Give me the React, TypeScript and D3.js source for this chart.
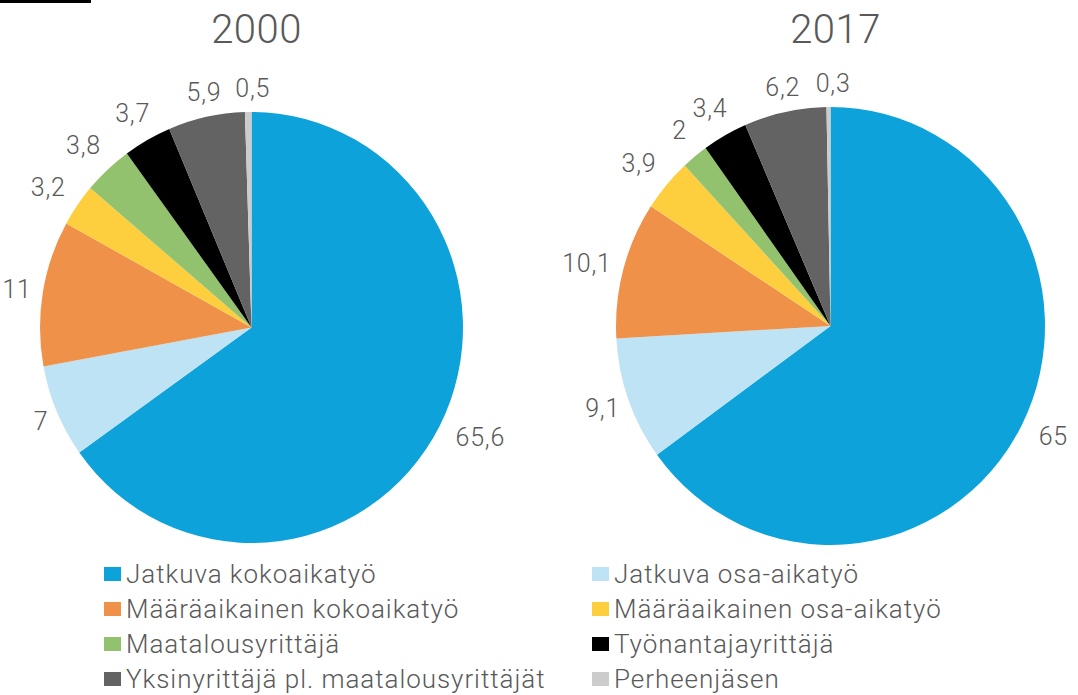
import React from "react";
import * as d3 from "d3";

const categories = [
  "Jatkuva kokoaikatyö",
  "Jatkuva osa-aikatyö",
  "Määräaikainen kokoaikatyö",
  "Määräaikainen osa-aikatyö",
  "Maatalousyrittäjä",
  "Työnantajayrittäjä",
  "Yksinyrittäjä pl. maatalousyrittäjät",
  "Perheenjäsen",
];
const values2000 = [65.6, 7, 11, 3.2, 3.8, 3.7, 5.9, 0.5];
const values2017 = [65, 9.1, 10.1, 3.9, 2, 3.4, 6.2, 0.3];
const colors = ["#0EA2DA", "#BEE3F4", "#F0914A", "#FDCE3E", "#92C26E", "#000000", "#636363", "#CCCCCC"];
const years = ["2000", "2017"];

const FONT = "Roboto, 'DejaVu Sans', sans-serif";
const TEXT = "#595959";

type PieSpec = { title: string; values: number[]; cx: number; cy: number; rx: number; ry: number };

const pies: PieSpec[] = [
  { title: years[0], values: values2000, cx: 251.5, cy: 327.5, rx: 211.5, ry: 215.5 },
  { title: years[1], values: values2017, cx: 830.5, cy: 326, rx: 214.5, ry: 219 },
];

const fmt = (v: number) => String(v).replace(".", ",");

function textWidth(label: string, fs: number) {
  let w = 0;
  for (const ch of label) w += ch === "," ? fs * 0.22 : fs * 0.6;
  return w;
}

function Pie({ spec }: { spec: PieSpec }) {
  const pieGen = d3.pie<number>().sort(null).value((d) => d);
  const arcs = pieGen(spec.values);
  const arcGen = d3.arc<d3.PieArcDatum<number>>().innerRadius(0).outerRadius(spec.rx);
  const sy = spec.ry / spec.rx;
  const fs = 25;
  const gap = 15;
  return (
    <g>
      <text x={spec.cx + 5} y={43} textAnchor="middle" fontSize={40} fontWeight={300} fill={TEXT} fontFamily={FONT} letterSpacing={0.5}>
        {spec.title}
      </text>
      <g transform={`translate(${spec.cx},${spec.cy}) scale(1,${sy})`}>
        {arcs.map((a, i) => (
          <path key={i} d={arcGen(a) || ""} fill={colors[i]} />
        ))}
      </g>
      {arcs.map((a, i) => {
        const mid = (a.startAngle + a.endAngle) / 2;
        const s = Math.sin(mid);
        const c = Math.cos(mid);
        const label = fmt(spec.values[i]);
        const w = textWidth(label, fs);
        const h = fs * 0.72;
        // extra outward push for labels in the upper-left diagonal
        const push = s < 0 && c > 0 ? 10 * Math.pow(Math.sin(2 * mid), 2) : 0;
        const ax = spec.cx + s * (spec.rx + gap + push);
        const ay = spec.cy - c * (spec.ry + gap + push);
        const x = ax + (s * w) / 2 + 5;
        const y = ay - (c * h) / 2;
        return (
          <text key={i} x={x} y={y + h / 2} textAnchor="middle" fontSize={fs} fontWeight={300} fill={TEXT} fontFamily={FONT} letterSpacing={0.8}>
            {label}
          </text>
        );
      })}
    </g>
  );
}

export default function App() {
  const legendX = [104, 592];
  return (
    <svg width={1078} height={695} style={{ position: "absolute", left: 0, top: 0, background: "#fff" }}>
      <rect x={0} y={0} width={91} height={3} fill="#000" />
      {pies.map((p, i) => (
        <Pie key={i} spec={p} />
      ))}
      {categories.map((cat, i) => {
        const col = i % 2;
        const row = Math.floor(i / 2);
        const cy = 574 + row * 35;
        const x = legendX[col];
        return (
          <g key={i}>
            <rect x={x} y={cy - 7} width={17} height={14} fill={colors[i]} />
            <text x={x + 22} y={cy + 9} fontSize={26} fontWeight={300} fill={TEXT} fontFamily={FONT} letterSpacing={0.95}>
              {cat}
            </text>
          </g>
        );
      })}
    </svg>
  );
}
